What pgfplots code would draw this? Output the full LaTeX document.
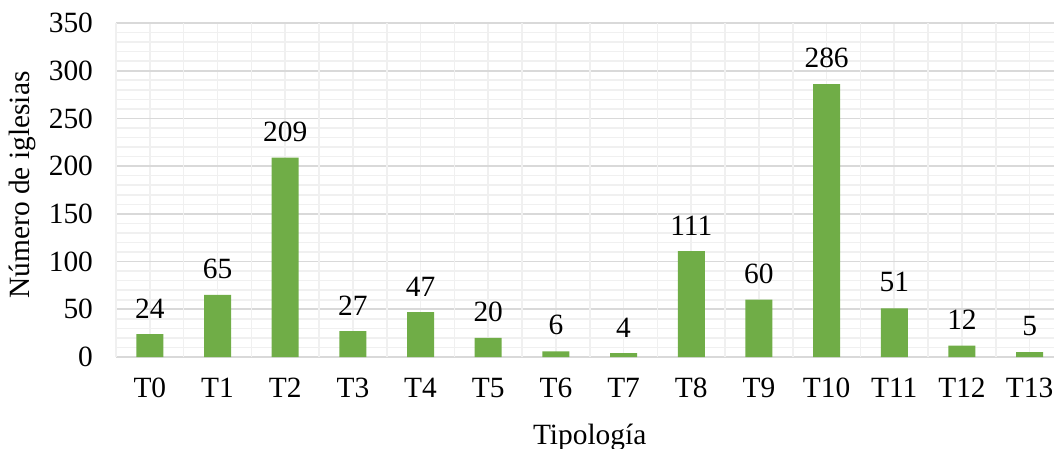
\documentclass[border=0pt]{standalone}
\usepackage{fontspec}
\setmainfont{Liberation Serif}
\usepackage{pgfplots}
\pgfplotsset{compat=1.18}
\definecolor{barg}{RGB}{112,173,71}
\definecolor{gmaj}{RGB}{217,217,217}
\definecolor{gmin}{RGB}{240,240,240}
\newcommand\cf{\fontsize{14.7}{17}\selectfont}

\begin{document}
\begin{tikzpicture}
\begin{axis}[
  at={(0,0)}, anchor=south west,
  scale only axis,
  width=469pt, height=167pt,
  xmin=-0.5, xmax=13.36,
  ymin=0, ymax=350,
  axis line style={draw=none},
  xtick={0,...,13},
  xticklabels={T0,T1,T2,T3,T4,T5,T6,T7,T8,T9,T10,T11,T12,T13},
  major tick length=0, minor tick length=0,
  xmajorgrids,
  major x grid style={color=gmin, line width=0.8pt},
  extra x ticks={-0.5,0.5,1.5,2.5,3.5,4.5,5.5,6.5,7.5,8.5,9.5,10.5,11.5,12.5},
  extra x tick labels={},
  extra x tick style={grid=major, major grid style={color=gmaj, line width=0.9pt}},
  ytick={0,50,...,350},
  minor y tick num=4,
  ymajorgrids, yminorgrids,
  major y grid style={color=gmaj, line width=0.9pt},
  minor y grid style={color=gmin, line width=0.8pt},
  /pgf/number format/assume math mode=true,
  tick label style={font=\cf},
  yticklabel style={xshift=-8pt},
  xticklabel style={yshift=-7pt},
  xlabel={Tipología},
  ylabel={Número de iglesias},
  label style={font=\cf},
  xlabel style={at={(axis description cs:0.505,-0.2)}, anchor=north, inner sep=0pt},
  ylabel style={at={(axis description cs:-0.1,0.515)}, anchor=center, inner sep=0pt},
  ybar, bar width=27pt*0.5,
  nodes near coords,
  every node near coord/.append style={font=\cf, yshift=4.5pt, color=black},
]
\addplot[fill=barg, draw=none, bar shift=0pt] coordinates {
  (0,24) (1,65) (2,209) (3,27) (4,47) (5,20) (6,6)
  (7,4) (8,111) (9,60) (10,286) (11,51) (12,12) (13,5)
};
\end{axis}
\pgfresetboundingbox
\path[use as bounding box] (-58pt,-46pt) rectangle (469pt,178.5pt);
\end{tikzpicture}
\end{document}
